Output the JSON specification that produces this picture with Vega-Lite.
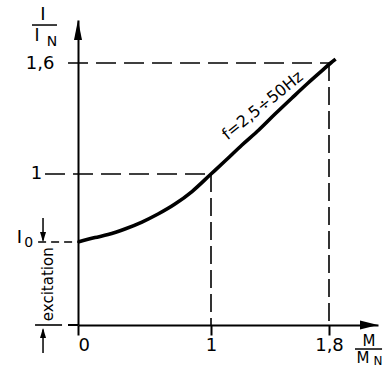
{
  "$schema": "https://vega.github.io/schema/vega-lite/v6.json",
  "autosize": "none",
  "width": 300,
  "height": 305,
  "padding": {"left": 78, "top": 20, "right": 13, "bottom": 44},
  "background": "white",
  "config": {"view": {"stroke": null}, "font": "DejaVu Sans", "text": {"font": "DejaVu Sans", "color": "black"}},
  "datasets": {
    "curve": [
      {"M": 0, "I": 0.55},
      {"M": 0.128, "I": 0.579},
      {"M": 0.226, "I": 0.599},
      {"M": 0.353, "I": 0.636},
      {"M": 0.481, "I": 0.682},
      {"M": 0.602, "I": 0.735},
      {"M": 0.729, "I": 0.801},
      {"M": 0.857, "I": 0.884},
      {"M": 1.0, "I": 1.0},
      {"M": 1.095, "I": 1.07},
      {"M": 1.21, "I": 1.157},
      {"M": 1.324, "I": 1.238},
      {"M": 1.434, "I": 1.324},
      {"M": 1.549, "I": 1.411},
      {"M": 1.658, "I": 1.492},
      {"M": 1.753, "I": 1.559},
      {"M": 1.814, "I": 1.6},
      {"M": 1.854, "I": 1.627}
    ],
    "points": [
      {"M": 1, "I": 1},
      {"M": 1.8, "I": 1.6}
    ],
    "one": [{"k": 1}]
  },
  "data": {"name": "curve"},
  "layer": [
    {
      "mark": {"type": "line", "color": "black", "strokeWidth": 3.6, "interpolate": "monotone"},
      "encoding": {
        "x": {"field": "M", "type": "quantitative",
          "scale": {"domain": [0, 1, 1.8, 2.2], "range": [0, 133, 251, 300], "nice": false, "zero": false},
          "axis": {"values": [0, 1, 1.8], "format": ".1~f", "labelExpr": "replace(datum.label, '.', ',')", "title": null, "grid": false,
            "domainColor": "black", "domainWidth": 2, "tickColor": "black", "tickWidth": 2, "tickSize": 10,
            "labelFontSize": 18, "labelColor": "black", "labelPadding": 1, "labelFont": "DejaVu Sans"}},
        "y": {"field": "I", "type": "quantitative",
          "scale": {"domain": [0, 1, 1.6, 1.9], "range": [305, 154, 43, 0], "nice": false, "zero": false},
          "axis": {"values": [1.6], "format": ".1~f", "labelExpr": "replace(datum.label, '.', ',')", "title": null, "grid": false,
            "domainColor": "black", "domainWidth": 2, "ticks": false,
            "labelFontSize": 18, "labelColor": "black", "labelPadding": 24, "labelFont": "DejaVu Sans", "labelBaseline": "middle"}}
      }
    },
    {
      "data": {"name": "points"},
      "mark": {"type": "rule", "color": "black", "strokeWidth": 1.6, "strokeDash": [18, 6]},
      "encoding": {
        "x": {"field": "M", "type": "quantitative"},
        "y": {"field": "I", "type": "quantitative"},
        "y2": {"datum": 0}
      }
    },
    {
      "data": {"name": "one"},
      "mark": {"type": "rule", "color": "black", "strokeWidth": 1.6, "strokeDash": [20, 8]},
      "encoding": {"x": {"datum": -0.075, "type": "quantitative"}, "x2": {"datum": 1.8}, "y": {"datum": 1.6, "type": "quantitative"}}
    },
    {
      "data": {"name": "one"},
      "mark": {"type": "rule", "color": "black", "strokeWidth": 1.6, "strokeDash": [20, 8]},
      "encoding": {"x": {"datum": -0.248, "type": "quantitative"}, "x2": {"datum": 1}, "y": {"datum": 1, "type": "quantitative"}}
    },
    {
      "data": {"name": "one"},
      "mark": {"type": "text", "text": "1", "fontSize": 18, "align": "right", "baseline": "middle"},
      "encoding": {"x": {"datum": -0.27, "type": "quantitative"}, "y": {"datum": 1.0, "type": "quantitative"}}
    },
    {
      "data": {"name": "one"},
      "mark": {"type": "rule", "color": "black", "strokeWidth": 1.6, "strokeDash": [8, 5]},
      "encoding": {"x": {"datum": -0.3, "type": "quantitative"}, "x2": {"datum": 0}, "y": {"datum": 0.55, "type": "quantitative"}}
    },
    {
      "data": {"name": "one"},
      "mark": {"type": "rule", "color": "black", "strokeWidth": 1.6},
      "encoding": {"x": {"datum": -0.323, "type": "quantitative"}, "x2": {"datum": -0.12}, "y": {"datum": 0, "type": "quantitative"}}
    },
    {
      "data": {"name": "one"},
      "mark": {"type": "rule", "color": "black", "strokeWidth": 2},
      "encoding": {"x": {"datum": -0.075, "type": "quantitative"}, "x2": {"datum": 0}, "y": {"datum": 0, "type": "quantitative"}}
    },
    {
      "data": {"name": "one"},
      "mark": {"type": "rule", "color": "black", "strokeWidth": 1.5},
      "encoding": {"x": {"datum": -0.263, "type": "quantitative"}, "y": {"datum": 0.709, "type": "quantitative"}, "y2": {"datum": 0.56}}
    },
    {
      "data": {"name": "one"},
      "mark": {"type": "point", "filled": true, "color": "black", "opacity": 1, "shape": "M0,0L-0.3,-1L0.3,-1Z", "size": 400},
      "encoding": {"x": {"datum": -0.263, "type": "quantitative"}, "y": {"datum": 0.55, "type": "quantitative"}}
    },
    {
      "data": {"name": "one"},
      "mark": {"type": "rule", "color": "black", "strokeWidth": 1.5},
      "encoding": {"x": {"datum": -0.263, "type": "quantitative"}, "y": {"datum": -0.03, "type": "quantitative"}, "y2": {"datum": -0.185}}
    },
    {
      "data": {"name": "one"},
      "mark": {"type": "point", "filled": true, "color": "black", "opacity": 1, "shape": "M0,0L-0.3,1L0.3,1Z", "size": 400},
      "encoding": {"x": {"datum": -0.263, "type": "quantitative"}, "y": {"datum": -0.02, "type": "quantitative"}}
    },
    {
      "data": {"name": "one"},
      "mark": {"type": "point", "filled": true, "color": "black", "opacity": 1, "shape": "M0,0L0.4,2L-0.4,2Z", "size": 400},
      "encoding": {"x": {"datum": 0, "type": "quantitative"}, "y": {"datum": 1.9, "type": "quantitative"}}
    },
    {
      "data": {"name": "one"},
      "mark": {"type": "point", "filled": true, "color": "black", "opacity": 1, "shape": "M0,0L-2,-0.5L-2,0.5Z", "size": 324},
      "encoding": {"x": {"datum": 2.2, "type": "quantitative"}, "y": {"datum": 0, "type": "quantitative"}}
    },
    {
      "data": {"name": "one"},
      "mark": {"type": "rule", "color": "black", "strokeWidth": 1.5},
      "encoding": {"x": {"datum": -0.346, "type": "quantitative"}, "x2": {"datum": -0.158}, "y": {"datum": 1.865, "type": "quantitative"}}
    },
    {
      "data": {"name": "one"},
      "mark": {"type": "rule", "color": "black", "strokeWidth": 1.5},
      "encoding": {"x": {"datum": 2.012, "type": "quantitative"}, "x2": {"datum": 2.233}, "y": {"datum": -0.159, "type": "quantitative"}}
    },
    {
      "data": {"name": "one"},
      "mark": {"type": "text", "text": "I", "fontSize": 18, "align": "center", "baseline": "middle"},
      "encoding": {"x": {"datum": -0.263, "type": "quantitative"}, "y": {"datum": 1.935, "type": "quantitative"}}
    },
    {
      "data": {"name": "one"},
      "mark": {"type": "text", "text": "I", "fontSize": 17, "align": "center", "baseline": "middle"},
      "encoding": {"x": {"datum": -0.308, "type": "quantitative"}, "y": {"datum": 1.788, "type": "quantitative"}}
    },
    {
      "data": {"name": "one"},
      "mark": {"type": "text", "text": "N", "fontSize": 14, "align": "center", "baseline": "middle"},
      "encoding": {"x": {"datum": -0.195, "type": "quantitative"}, "y": {"datum": 1.746, "type": "quantitative"}}
    },
    {
      "data": {"name": "one"},
      "mark": {"type": "text", "text": "M", "fontSize": 15, "align": "center", "baseline": "middle"},
      "encoding": {"x": {"datum": 2.127, "type": "quantitative"}, "y": {"datum": -0.106, "type": "quantitative"}}
    },
    {
      "data": {"name": "one"},
      "mark": {"type": "text", "text": "M", "fontSize": 15, "align": "center", "baseline": "middle"},
      "encoding": {"x": {"datum": 2.078, "type": "quantitative"}, "y": {"datum": -0.219, "type": "quantitative"}}
    },
    {
      "data": {"name": "one"},
      "mark": {"type": "text", "text": "N", "fontSize": 12, "align": "center", "baseline": "middle"},
      "encoding": {"x": {"datum": 2.2, "type": "quantitative"}, "y": {"datum": -0.238, "type": "quantitative"}}
    },
    {
      "data": {"name": "one"},
      "mark": {"type": "text", "text": "I", "fontSize": 18, "align": "center", "baseline": "middle"},
      "encoding": {"x": {"datum": -0.44, "type": "quantitative"}, "y": {"datum": 0.575, "type": "quantitative"}}
    },
    {
      "data": {"name": "one"},
      "mark": {"type": "text", "text": "0", "fontSize": 14, "align": "center", "baseline": "middle"},
      "encoding": {"x": {"datum": -0.37, "type": "quantitative"}, "y": {"datum": 0.545, "type": "quantitative"}}
    },
    {
      "data": {"name": "one"},
      "mark": {"type": "text", "text": "excitation", "fontSize": 15, "align": "center", "baseline": "middle", "angle": 270},
      "encoding": {"x": {"datum": -0.225, "type": "quantitative"}, "y": {"datum": 0.27, "type": "quantitative"}}
    },
    {
      "data": {"name": "one"},
      "mark": {"type": "text", "text": "f=2,5÷50Hz", "fontSize": 16, "align": "center", "baseline": "middle", "angle": 321},
      "encoding": {"x": {"datum": 1.35, "type": "quantitative"}, "y": {"datum": 1.37, "type": "quantitative"}}
    }
  ]
}
